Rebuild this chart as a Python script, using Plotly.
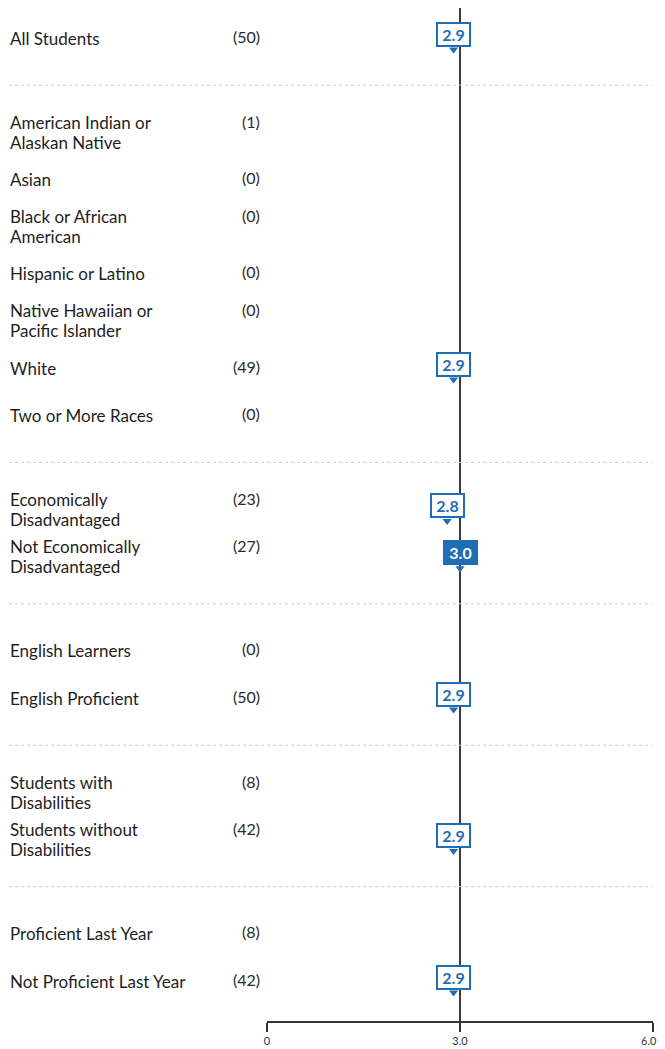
import plotly.graph_objects as go

# ---- data ----
categories = [
    "All Students",
    "American Indian or<br>Alaskan Native", "Asian", "Black or African<br>American",
    "Hispanic or Latino", "Native Hawaiian or<br>Pacific Islander", "White", "Two or More Races",
    "Economically<br>Disadvantaged", "Not Economically<br>Disadvantaged",
    "English Learners", "English Proficient",
    "Students with<br>Disabilities", "Students without<br>Disabilities",
    "Proficient Last Year", "Not Proficient Last Year",
]
group_ids = [0, 1, 1, 1, 1, 1, 1, 1, 2, 2, 3, 3, 4, 4, 5, 5]
counts = [50, 1, 0, 0, 0, 0, 49, 0, 23, 27, 0, 50, 8, 42, 8, 42]
scores = [2.9, None, None, None, None, None, 2.9, None, 2.8, 3.0, None, 2.9, None, 2.9, None, 2.9]
reference_value = 3.0
tick_vals = [0, 3, 6]
tick_text = ["0", "3.0", "6.0"]

# ---- layout constants (page pixels; the page body has an 8px margin) ----
OFF = 8
W, H = 657, 1041
AX_LEFT_PX, AX_RIGHT_PX, AX_Y_PX = 267, 653, 1021
ML = AX_LEFT_PX - OFF
PW = AX_RIGHT_PX - AX_LEFT_PX
MR = W - ML - PW
MT = 0
PH = AX_Y_PX - OFF - MT
MB = H - MT - PH
SLOT0_PX = 38.0
SLOT_PX = 47.15
BLUE = "#1f6db4"
TEXT = "#1e1e1e"
FONT = "Lato"

def px_to_paper_x(page_px):
    return (page_px - AX_LEFT_PX) / PW

# assign slots (separator slot between groups)
slots = []
sep_slots = []
s = 0
prev = group_ids[0]
for g in group_ids:
    if g != prev:
        sep_slots.append(s)
        s += 1
        prev = g
    slots.append(s)
    s += 1

y_top = -(SLOT0_PX - OFF - MT) / SLOT_PX
y_bot = y_top + PH / SLOT_PX

# keep the right-most tick label inside the window
tick_labels = tick_text[:-1] + [tick_text[-1] + "\u00a0" * 3]

fig = go.Figure()
annotations = []
shapes = []

# reference vertical line
shapes.append(dict(type="line", xref="x", yref="paper", x0=reference_value, x1=reference_value,
                   y0=0, y1=1, line=dict(color="#3a3a3a", width=2), layer="below"))

# separators
for sl in sep_slots:
    shapes.append(dict(type="line", xref="paper", yref="y", x0=px_to_paper_x(9), x1=px_to_paper_x(652),
                       y0=sl, y1=sl, line=dict(color="#cccccc", width=1, dash="dot"), layer="below"))

for cat, cnt, sl in zip(categories, counts, slots):
    lines = cat.split("<br>")
    n = len(lines)
    for i, ln in enumerate(lines):
        shift = (n - 1) * 10 - i * 20
        annotations.append(dict(xref="paper", yref="y", x=px_to_paper_x(8), y=sl, text=ln,
                                xanchor="left", yanchor="middle", align="left", showarrow=False,
                                yshift=shift,
                                font=dict(family=FONT, size=17, color=TEXT)))
    annotations.append(dict(xref="paper", yref="y", x=px_to_paper_x(262), y=sl, text=f"({cnt})",
                            xanchor="right", yanchor="middle", showarrow=False,
                            yshift=(11 if n > 1 else 2),
                            font=dict(family=FONT, size=16, color="#2a2a2a")))

# score callouts
mx, my = [], []
for sc, sl in zip(scores, slots):
    if sc is None:
        continue
    filled = sc >= reference_value
    annotations.append(dict(xref="x", yref="y", x=sc, y=sl, text=f"<b>{sc:.1f}</b>",
                            xanchor="center", yanchor="middle", showarrow=False, yshift=4,
                            width=31, height=21, borderwidth=2, borderpad=0,
                            bordercolor=BLUE, bgcolor=(BLUE if filled else "white"),
                            font=dict(family=FONT, size=16, color=("white" if filled else BLUE))))
    mx.append(sc)
    my.append(sl + 11.5 / SLOT_PX)

fig.add_trace(go.Scatter(x=mx, y=my, mode="markers", hoverinfo="skip", showlegend=False,
                         marker=dict(symbol="triangle-down", size=8, color=BLUE, line=dict(width=0)),
                         cliponaxis=False))

fig.update_layout(
    width=W, height=H, margin=dict(l=ML, r=MR, t=MT, b=MB),
    paper_bgcolor="white", plot_bgcolor="white", showlegend=False,
    annotations=annotations, shapes=shapes,
    xaxis=dict(range=[0, 6], showgrid=False, zeroline=False, showline=True, linecolor="#333",
               linewidth=1.5, ticks="outside", ticklen=9, tickwidth=1.5, tickcolor="#333",
               tickvals=tick_vals, ticktext=tick_labels, automargin=False,
               tickfont=dict(family=FONT, size=11, color="#333")),
    yaxis=dict(range=[y_bot, y_top], visible=False, showgrid=False, zeroline=False),
)

fig.write_html("out.html")
